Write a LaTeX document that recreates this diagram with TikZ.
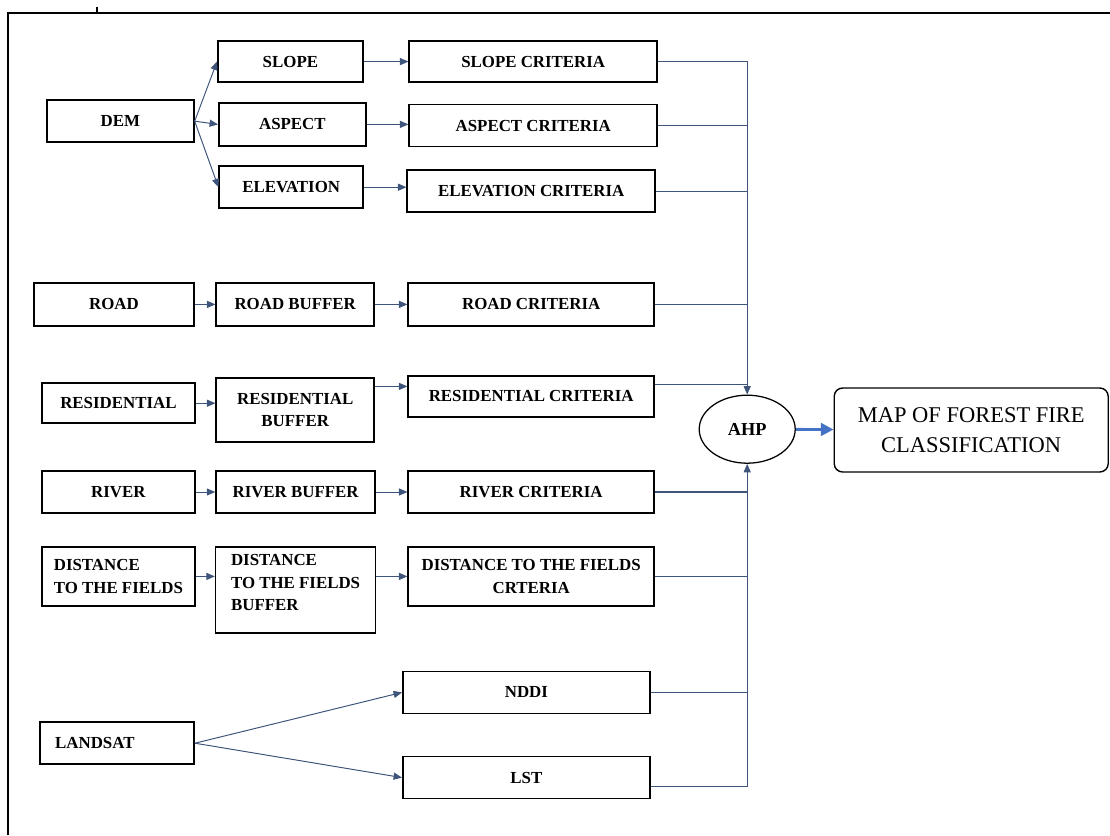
\documentclass[tikz,border=0pt]{standalone}
\usepackage{fontspec}
\setmainfont{Liberation Serif}
\usepackage{tikz}
\usetikzlibrary{positioning,arrows.meta,shapes.geometric,calc}
\definecolor{linkblue}{RGB}{62,84,122}
\definecolor{mapblue}{RGB}{68,114,196}

\begin{document}
\begin{tikzpicture}[
  box/.style={rectangle,draw=black,line width=1.1pt,font=\fontsize{12}{16}\selectfont\bfseries,
              minimum width=3.83cm,minimum height=1.05cm,inner sep=2pt,align=center},
  crit/.style={box,minimum width=6.15cm},
  buf/.style={box,minimum width=3.95cm},
  link/.style={draw=linkblue,line width=0.7pt,-{Triangle[length=6pt,width=5pt]}},
  bus/.style={draw=linkblue,line width=0.8pt}
]
\useasboundingbox (0,0) rectangle (27.75,-20.875);
\draw[line width=1pt] (0.2,-20.875) -- (0.2,-0.325) -- (27.75,-0.325);
\draw[line width=0.8pt] (2.425,-0.17) -- (2.425,-0.3);

\node[box,minimum width=3.675cm] (dem) at (3.01,-3.03) {DEM};
\node[box,minimum width=3.63cm,minimum height=1.03cm] (slope) at (7.26,-1.54) {SLOPE};
\node[box,minimum width=3.68cm,minimum height=1.08cm] (aspect) at (7.31,-3.11) {ASPECT};
\node[box,minimum width=3.6cm] (elev) at (7.28,-4.68) {ELEVATION};
\node[crit,minimum width=6.2cm,minimum height=1.03cm] (slopecrit) at (13.33,-1.54) {SLOPE CRITERIA};
\node[crit,minimum width=6.2cm] (aspectcrit) at (13.33,-3.14) {ASPECT CRITERIA};
\node[crit,minimum width=6.2cm] (elevcrit) at (13.28,-4.78) {ELEVATION CRITERIA};

\node[box,minimum width=4.0cm,minimum height=1.08cm] (road) at (2.85,-7.61) {ROAD};
\node[buf,minimum height=1.08cm] (roadbuf) at (7.38,-7.61) {ROAD BUFFER};
\node[crit,minimum height=1.08cm] (roadcrit) at (13.28,-7.61) {ROAD CRITERIA};

\node[box,minimum height=1.0cm] (resid) at (2.96,-10.08) {RESIDENTIAL};
\node[buf,minimum height=1.6cm] (resbuf) at (7.38,-10.25) {RESIDENTIAL\\BUFFER};
\node[crit,minimum height=1.03cm] (rescrit) at (13.28,-9.91) {RESIDENTIAL CRITERIA};

\node[box] (river) at (2.96,-12.3) {RIVER};
\node[buf,minimum width=3.98cm] (riverbuf) at (7.39,-12.3) {RIVER BUFFER};
\node[crit] (rivercrit) at (13.28,-12.3) {RIVER CRITERIA};

\node[box,minimum height=1.48cm,align=left] (dist) at (2.96,-14.41) {DISTANCE\\TO THE FIELDS};
\node[buf,minimum width=4.0cm,minimum height=2.15cm,align=left] (distbuf) at (7.39,-14.75) {DISTANCE\\TO THE FIELDS\\BUFFER\\[-0.2cm]};
\node[crit,minimum height=1.48cm] (distcrit) at (13.28,-14.41) {DISTANCE TO THE FIELDS\\CRTERIA};

\node[box,minimum width=3.85cm,text width=3.1cm,inner xsep=0.375cm,align=left] (landsat) at (2.93,-18.58) {LANDSAT};
\node[crit,minimum width=6.18cm] (nddi) at (13.16,-17.31) {NDDI};
\node[crit,minimum width=6.18cm] (lst) at (13.16,-19.44) {LST};

\node[ellipse,draw=black,line width=0.9pt,minimum width=2.4cm,minimum height=1.7cm,
      font=\fontsize{13}{15}\selectfont\bfseries] (ahp) at (18.68,-10.73) {AHP};
\node[rectangle,rounded corners=6pt,draw=black,line width=1pt,minimum width=6.85cm,minimum height=2.1cm,
      align=center,font=\fontsize{16}{21}\selectfont] (map) at (24.28,-10.75) {MAP OF FOREST FIRE\\CLASSIFICATION};

\draw[link] (dem.east) -- (slope.west);
\draw[link] (dem.east) -- (aspect.west);
\draw[link] (dem.east) -- (elev.west);
\draw[link] (slope) -- (slopecrit);
\draw[link] (aspect.east) -- (aspect.east -| aspectcrit.west);
\draw[link] (elev.east) -- (elev.east -| elevcrit.west);
\draw[link] (road) -- (roadbuf);
\draw[link] (roadbuf) -- (roadcrit);
\draw[link] (resid.east) -- (resid.east -| resbuf.west);
\draw[link] ([yshift=0.25cm]rescrit.west -| resbuf.east) -- ([yshift=0.25cm]rescrit.west);
\draw[link] (river) -- (riverbuf);
\draw[link] (riverbuf) -- (rivercrit);
\draw[link] (dist.east) -- (dist.east -| distbuf.west);
\draw[link] (distcrit.west -| distbuf.east) -- (distcrit.west);
\draw[link] (landsat.east) -- (nddi.west);
\draw[link] (landsat.east) -- (lst.west);

\draw[link] (slopecrit.east) -| (ahp.north);
\draw[bus] (aspectcrit.east) -- (aspectcrit.east -| ahp.north);
\draw[bus] (elevcrit.east) -- (elevcrit.east -| ahp.north);
\draw[bus] (roadcrit.east) -- (roadcrit.east -| ahp.north);
\draw[bus] ([yshift=0.3cm]rescrit.east) -- ([yshift=0.3cm]rescrit.east -| ahp.north);
\draw[link] ([yshift=-0.21cm]lst.east) -| (ahp.south);
\draw[bus] (rivercrit.east) -- (rivercrit.east -| ahp.south);
\draw[bus] (distcrit.east) -- (distcrit.east -| ahp.south);
\draw[bus] (nddi.east) -- (nddi.east -| ahp.south);
\draw[draw=mapblue,line width=2pt,-{Triangle[length=9pt,width=9pt]}] (ahp) -- (map);
\end{tikzpicture}
\end{document}
